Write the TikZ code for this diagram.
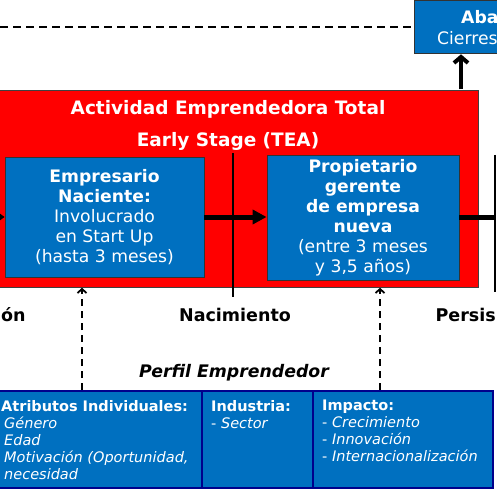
\documentclass[tikz,border=0pt]{standalone}
\usepackage{fontspec}
\setmainfont{DejaVu Sans}
\usetikzlibrary{arrows.meta}
\definecolor{gemred}{rgb}{1.0,0.0,0.0}
\definecolor{gemblue}{RGB}{0,112,192}
\definecolor{gemnavy}{RGB}{0,0,140}

\begin{document}
\begin{tikzpicture}[
  x=1pt, y=-1pt,
  >={Triangle[length=14pt, width=14pt]},
  redbox/.style={rectangle, fill=gemred, draw=black!75, line width=0.8pt, anchor=north west, inner sep=0pt},
  bluebox/.style={rectangle, fill=gemblue, draw=black!80, line width=0.8pt, text=white, align=center, inner sep=0pt, font=\fontsize{17.2}{20}\selectfont},
  profilebox/.style={rectangle, fill=gemblue, draw=gemnavy, line width=1.5pt, anchor=north west, inner sep=0pt},
  profiletext/.style={anchor=north west, align=left, text=white, inner sep=0pt, font=\fontsize{14.5}{17}\selectfont},
  titletext/.style={text=white, inner sep=0pt, font=\fontsize{18.5}{22}\selectfont\bfseries},
  stagelabel/.style={inner sep=0pt, font=\fontsize{17.5}{20}\selectfont\bfseries},
  flowarrow/.style={->, line width=5pt},
  flowline/.style={line width=5pt},
  stageline/.style={line width=2.5pt},
  influence/.style={-{Straight Barb[length=4pt, width=9pt]}, line width=1.8pt, dash pattern=on 7pt off 5pt},
]
\useasboundingbox (0,0) rectangle (497,497);
\clip (0,0) rectangle (497,497);

% ---- abandono (top right) ----
\node[rectangle, fill=gemblue, draw=black!80, line width=0.8pt, anchor=north west,
      minimum width=120pt, minimum height=53pt] (abandono) at (414,0.5) {};
\node[anchor=west, text=white, inner sep=0pt, font=\fontsize{17.2}{20}\selectfont\bfseries] (abatxt) at (461,17) {Aba};
\node[anchor=west, text=white, inner sep=0pt, font=\fontsize{17.2}{20}\selectfont] (cierrestxt) at (437,38) {Cierres};
\coordinate (dashstart) at (0,27);
\draw[line width=1.5pt, dash pattern=on 8pt off 5pt] (dashstart) -- (abandono.west |- dashstart);

% ---- TEA ----
\node[redbox, minimum width=488pt, minimum height=197pt] (tea) at (-10,90) {};
\node[titletext] (title1) at (228,109) {Actividad Emprendedora Total};
\node[titletext] (title2) at (228,141) {Early Stage (TEA)};

\node[bluebox, minimum width=199pt, minimum height=120pt] (naciente) at (104.5,217)
  {\textbf{Empresario}\\\textbf{Naciente:}\\Involucrado\\en Start Up\\(hasta 3 meses)};
\node[bluebox, minimum width=192pt, minimum height=125pt] (nueva) at (363,217.5)
  {\textbf{Propietario}\\\textbf{gerente}\\\textbf{de empresa}\\\textbf{nueva}\\(entre 3 meses\\y 3,5 años)};

% ---- stage lines ----
\coordinate (birthtop) at (233,153);
\coordinate (birthbot) at (233,297);
\coordinate (persisttop) at (495,155);
\coordinate (persistbot) at (495,292);
\draw[stageline] (birthtop) -- (birthbot);
\draw[stageline] (persisttop) -- (persistbot);

% ---- flow ----
\coordinate (flowin) at (-10,217);
\coordinate (upfrom) at (461,89.5);
\draw[flowarrow, >={Triangle[length=10pt, width=14pt]}] (flowin) -- (naciente.west |- flowin);
\draw[flowarrow] (naciente.east |- flowin) -- (nueva.west |- flowin);
\draw[flowline] (nueva.east |- flowin) -- (persisttop |- flowin);
\draw[line width=4pt, -{Straight Barb[length=6pt, width=14pt]}] (upfrom) -- (upfrom |- abandono.south);

% ---- stage labels ----
\node[stagelabel, anchor=west] (concepcion) at (1,315) {ón};
\node[stagelabel] (nacimiento) at (235,315) {Nacimiento};
\node[stagelabel, anchor=east] (persistencia) at (496,315) {Persis};

% ---- perfil emprendedor ----
\node[inner sep=0pt, font=\fontsize{17.3}{20}\selectfont\bfseries\itshape] (perfil) at (234,373) {Perfil Emprendedor};

\node[profilebox, minimum width=211pt, minimum height=97pt] (atributos) at (-10,390) {};
\node[profilebox, minimum width=111pt, minimum height=97pt] (industria) at (201,390) {};
\node[profilebox, minimum width=180pt, minimum height=97pt] (impacto) at (312,390) {};

\node[profiletext] (atributostxt) at (1,400)
  {\textbf{Atributos Individuales:}\\
   \hspace*{3pt}\textit{Género}\\
   \hspace*{3pt}\textit{Edad}\\
   \hspace*{3pt}\textit{Motivación (Oportunidad,}\\
   \hspace*{3pt}\textit{necesidad}};
\node[profiletext] (industriatxt) at (211,400)
  {\textbf{Industria:}\\- \textit{Sector}};
\node[profiletext] (impactotxt) at (322,400)
  {\textbf{Impacto:}\\- \textit{Crecimiento}\\- \textit{Innovación}\\- \textit{Internacionalización}};

% ---- influence arrows ----
\draw[influence] (atributos.north -| 82,0) -- (tea.south -| 82,0);
\draw[influence] (impacto.north -| 380,0) -- (tea.south -| 380,0);

\end{tikzpicture}
\end{document}
